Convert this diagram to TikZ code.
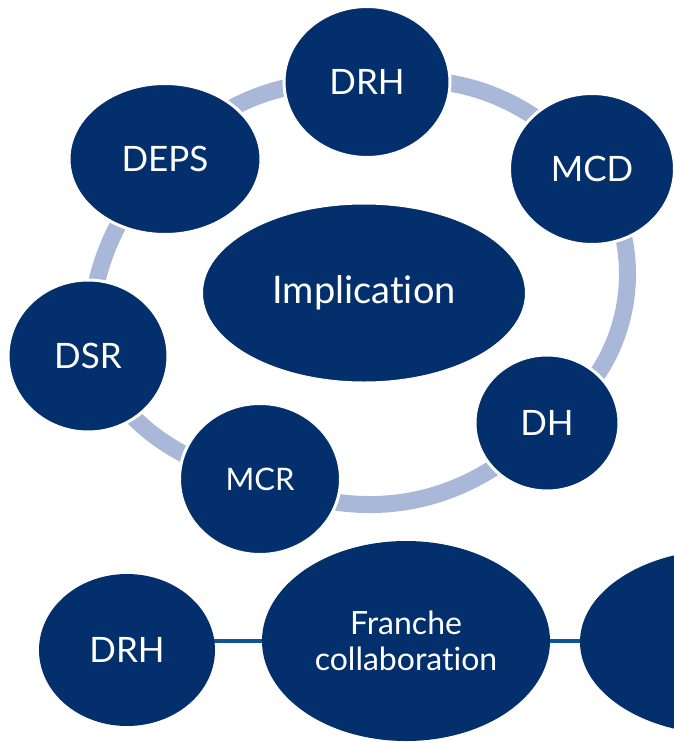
\documentclass[tikz,border=0pt]{standalone}
\usepackage{fontspec}
\setmainfont{Lato}[Ligatures=NoCommon]
\usetikzlibrary{shapes.geometric}

\definecolor{navy}{RGB}{3,48,108}
\definecolor{ringblue}{RGB}{169,184,217}
\definecolor{linkblue}{RGB}{14,84,150}

\pgfdeclarelayer{background}
\pgfsetlayers{background,main}

\tikzset{
  bubble/.style={ellipse, fill=navy, draw=white, line width=3pt, inner sep=0pt,
                 text=white, align=center, font=\fontsize{35}{38}\selectfont},
  ring/.style={ringblue, line width=17pt},
  link/.style={linkblue, line width=4pt}
}

\begin{document}
\begin{tikzpicture}[x=1pt, y=-1pt]
    \useasboundingbox (0,0) rectangle (674,742);
    % cycle round the centre
    \node[bubble, minimum width=166pt, minimum height=151pt] (drhTop) at (367,82) {DRH};
    \node[bubble, minimum width=165pt, minimum height=151pt] (mcd) at (592,169) {MCD};
    \node[bubble, minimum width=144pt, minimum height=136pt] (dh) at (547,423) {DH};
    \node[bubble, minimum width=161pt, minimum height=151pt, font=\fontsize{31}{34}\selectfont] (mcr) at (260,479) {MCR};
    \node[bubble, minimum width=160pt, minimum height=152pt] (dsr) at (88,356) {DSR};
    \node[bubble, minimum width=192pt, minimum height=151pt] (deps) at (165,159) {DEPS};
    \node[bubble, minimum width=325pt, minimum height=180pt, font=\fontsize{38}{40}\selectfont] (impl) at (364,293) {Implication};
    % bottom row
    \node[bubble, draw=none, minimum width=176pt, minimum height=152pt] (drhBot) at (127,650) {DRH};
    \node[bubble, draw=none, minimum width=288pt, minimum height=200pt, font=\fontsize{32}{36}\selectfont] (franche) at (406,641) {Franche\\collaboration};
    \node[bubble, draw=none, minimum width=290pt, minimum height=185pt] (partner) at (725,642) {};
    \begin{pgfonlayer}{background}
        \draw[ring] (drhTop.center) to[bend left=28] (mcd.center);
        \draw[ring] (mcd.center) to[bend left=48] (dh.center);
        \draw[ring] (dh.center) to[bend left=36] (mcr.center);
        \draw[ring] (mcr.center) to[bend left=25] (dsr.center);
        \draw[ring] (dsr.center) to[bend left=20] (deps.center);
        \draw[ring] (deps.center) to[bend left=24] (drhTop.center);
        \draw[link] (drhBot.center |- franche.center) -- (franche.center);
        \draw[link] (franche.center) -- (partner.center |- franche.center);
    \end{pgfonlayer}
\end{tikzpicture}
\end{document}
